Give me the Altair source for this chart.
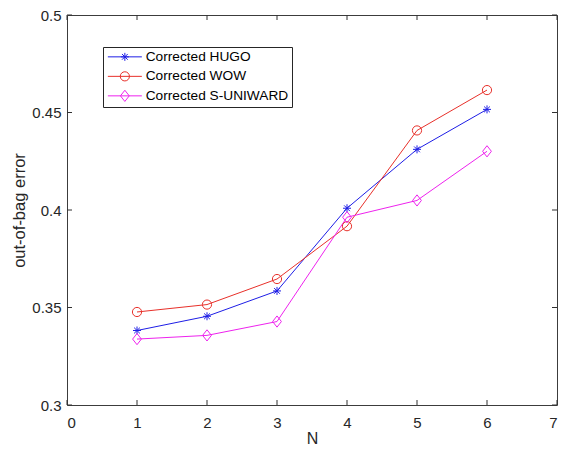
import altair as alt
import pandas as pd

N = [1, 2, 3, 4, 5, 6]
series_names = ["Corrected HUGO", "Corrected WOW", "Corrected S-UNIWARD"]
hugo = [0.3382, 0.3455, 0.3585, 0.4009, 0.4311, 0.4516]
wow = [0.3477, 0.3515, 0.3646, 0.3917, 0.4408, 0.4615]
suniward = [0.3338, 0.3357, 0.3428, 0.3963, 0.4049, 0.4301]
x_ticks = [0, 1, 2, 3, 4, 5, 6, 7]
y_ticks = [0.3, 0.35, 0.4, 0.45, 0.5]

colors = ["#1e1ee6", "#e8302a", "#ee22ee"]
marker_paths = [
    "M-1,0L1,0M0,-1L0,1M-0.72,-0.72L0.72,0.72M-0.72,0.72L0.72,-0.72",
    "M1.15,0A1.15,1.15,0,1,1,-1.15,0A1.15,1.15,0,1,1,1.15,0",
    "M0,-1.4L1.1,0L0,1.4L-1.1,0Z",
]
legend_paths = ["M-4.25,0L4.25,0" + p for p in marker_paths]

rows = []
for name, vals in zip(series_names, [hugo, wow, suniward]):
    for n, v in zip(N, vals):
        rows.append({"N": n, "err": v, "series": name})
df = pd.DataFrame(rows)
xt = pd.DataFrame({"t": x_ticks})
yt = pd.DataFrame({"t": y_ticks})

W, H = 490, 390
FONT = "Liberation Sans"
TXT = "#262626"

xscale = alt.Scale(domain=[0, 7], nice=False, zero=False)
yscale = alt.Scale(domain=[0.3, 0.5], nice=False, zero=False)

xenc = alt.X("N:Q", scale=xscale, title="N",
             axis=alt.Axis(values=x_ticks, format="d", ticks=False, domain=False, grid=False,
                           labelPadding=10, titlePadding=0, titleFontSize=16))
yenc = alt.Y("err:Q", scale=yscale, title="out-of-bag error",
             axis=alt.Axis(values=y_ticks, format=".2~f", ticks=False, domain=False, grid=False,
                           labelPadding=6, titlePadding=4))

cscale = alt.Scale(domain=series_names, range=colors)

lines = alt.Chart(df).mark_line(strokeWidth=1).encode(
    x=xenc, y=yenc,
    color=alt.Color("series:N", scale=cscale, legend=None),
    detail="series:N",
)
points = alt.Chart(df).mark_point(filled=False, strokeWidth=1, size=64, opacity=1).encode(
    x=xenc, y=yenc,
    color=alt.Color("series:N", scale=cscale, legend=None),
    shape=alt.Shape("series:N", scale=alt.Scale(domain=series_names, range=marker_paths), legend=None),
)
leg = alt.Legend(title=None, orient="none", legendX=36, legendY=32, direction="vertical",
                 strokeColor="#262626", fillColor="white", padding=3, cornerRadius=0,
                 symbolSize=64, symbolStrokeWidth=1, symbolOpacity=1, symbolOffset=12,
                 labelOffset=14, labelFont=FONT, labelFontSize=13.7, labelColor="#000000",
                 rowPadding=4.5, labelLimit=300)
legend_layer = alt.Chart(df).mark_point(filled=False, strokeWidth=1, size=64, opacity=0).encode(
    x=xenc, y=yenc,
    color=alt.Color("series:N", scale=cscale, legend=leg),
    shape=alt.Shape("series:N", scale=alt.Scale(domain=series_names, range=legend_paths), legend=leg),
)

tick_color = "#303030"
xt_bottom = alt.Chart(xt).mark_rule(color=tick_color, strokeWidth=1).encode(
    x=alt.X("t:Q", scale=xscale), y=alt.value(H), y2=alt.value(H - 5))
xt_top = alt.Chart(xt).mark_rule(color=tick_color, strokeWidth=1).encode(
    x=alt.X("t:Q", scale=xscale), y=alt.value(0), y2=alt.value(5))
yt_left = alt.Chart(yt).mark_rule(color=tick_color, strokeWidth=1).encode(
    y=alt.Y("t:Q", scale=yscale), x=alt.value(0), x2=alt.value(5))
yt_right = alt.Chart(yt).mark_rule(color=tick_color, strokeWidth=1).encode(
    y=alt.Y("t:Q", scale=yscale), x=alt.value(W), x2=alt.value(W - 5))

chart = alt.layer(
    xt_bottom, xt_top, yt_left, yt_right, lines, points, legend_layer
).resolve_scale(
    color="independent", shape="independent"
).properties(
    width=W, height=H,
    autosize=alt.AutoSizeParams(type="none"),
    padding={"left": 59, "top": 7, "right": 1, "bottom": 40},
    background="white",
).configure_view(
    stroke="#3c3c3c", strokeWidth=1
).configure_axis(
    labelFont=FONT, labelFontSize=15, labelColor=TXT,
    titleFont=FONT, titleFontSize=16.5, titleColor=TXT, titleFontWeight="normal",
)

chart.save("out.html", embed_options={"renderer": "svg", "actions": False})
